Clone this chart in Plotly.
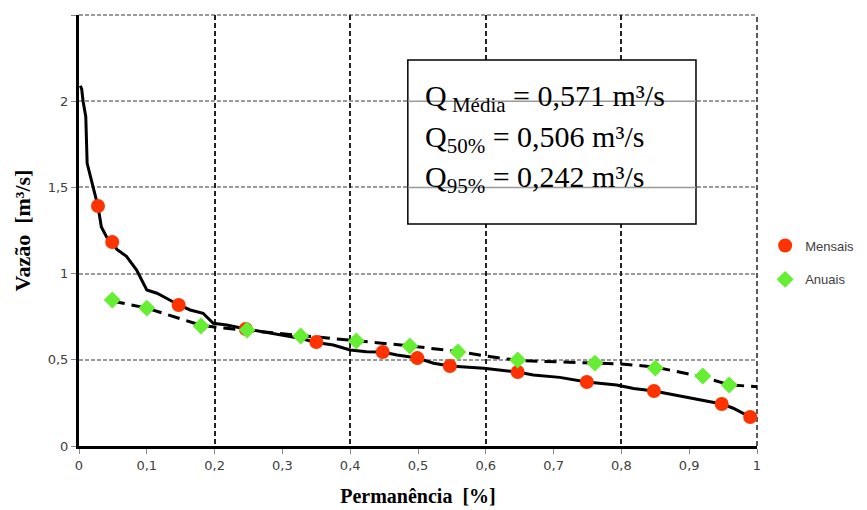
import plotly.graph_objects as go

# Flow duration curve (monthly, continuous)
curve_x = [0.002, 0.004, 0.006, 0.010, 0.012, 0.021, 0.028, 0.033, 0.041, 0.049, 0.056, 0.070,
           0.085, 0.100, 0.115, 0.129, 0.147, 0.164, 0.183, 0.198, 0.218, 0.246, 0.277, 0.301,
           0.326, 0.350, 0.375, 0.400, 0.424, 0.448, 0.469, 0.499, 0.523, 0.547, 0.597, 0.647,
           0.670, 0.709, 0.749, 0.793, 0.818, 0.848, 0.891, 0.926, 0.948, 0.965, 0.990, 0.998]
curve_y = [2.09, 2.07, 2.00, 1.91, 1.64, 1.50, 1.39, 1.27, 1.21, 1.18, 1.14, 1.10,
           1.02, 0.905, 0.886, 0.857, 0.818, 0.789, 0.770, 0.712, 0.702, 0.679, 0.657, 0.644,
           0.625, 0.600, 0.586, 0.557, 0.547, 0.545, 0.528, 0.510, 0.480, 0.464, 0.451, 0.429,
           0.412, 0.398, 0.371, 0.354, 0.334, 0.319, 0.286, 0.257, 0.244, 0.219, 0.168, 0.160]

# Monthly points (Mensais)
mens_x = [0.028, 0.049, 0.147, 0.246, 0.350, 0.448, 0.499, 0.547, 0.647, 0.749, 0.848, 0.948, 0.990]
mens_y = [1.392, 1.183, 0.818, 0.679, 0.603, 0.545, 0.510, 0.464, 0.429, 0.371, 0.319, 0.244, 0.168]

# Annual points (Anuais)
anu_x = [0.049, 0.100, 0.180, 0.248, 0.327, 0.409, 0.488, 0.559, 0.647, 0.761, 0.850, 0.920, 0.959]
anu_y = [0.847, 0.800, 0.696, 0.673, 0.638, 0.609, 0.580, 0.545, 0.499, 0.481, 0.452, 0.406, 0.354]

# Annual curve (dashed)
anc_x = [0.05, 0.10, 0.18, 0.21, 0.25, 0.33, 0.41, 0.49, 0.56, 0.60, 0.65, 0.76, 0.80, 0.85, 0.92, 0.96, 1.00]
anc_y = [0.84, 0.80, 0.70, 0.685, 0.67, 0.638, 0.61, 0.58, 0.547, 0.522, 0.495, 0.481, 0.476, 0.458, 0.40, 0.354, 0.344]

x_tick_vals = [0, 0.1, 0.2, 0.3, 0.4, 0.5, 0.6, 0.7, 0.8, 0.9, 1.0]
y_tick_vals = [0, 0.5, 1.0, 1.5, 2.0, 2.5]

box_lines = ["Q<sub> Média</sub> = 0,571 m³/s",
             "Q<sub>50%</sub> = 0,506 m³/s",
             "Q<sub>95%</sub> = 0,242 m³/s"]
box_line_y = [2.02, 1.78, 1.55]

NB = "\u00a0"

fig = go.Figure()

fig.add_trace(go.Scatter(x=anc_x, y=anc_y, mode="lines",
                         line=dict(color="black", width=3, dash="12px,7px"),
                         showlegend=False, hoverinfo="skip"))
fig.add_trace(go.Scatter(x=curve_x, y=curve_y, mode="lines",
                         line=dict(color="black", width=3),
                         showlegend=False, hoverinfo="skip"))
fig.add_trace(go.Scatter(x=mens_x, y=mens_y, mode="markers", name="Mensais",
                         legendgroup="a",
                         marker=dict(color="#FF3300", size=14, symbol="circle")))
fig.add_trace(go.Scatter(x=anu_x, y=anu_y, mode="markers", name="Anuais",
                         legendgroup="b",
                         marker=dict(color="#66EE33", size=13, symbol="diamond")))

# Border grid lines at the range edges
fig.add_shape(type="line", xref="paper", yref="paper", x0=0, x1=1, y0=1, y1=1,
              line=dict(color="#9a9a9a", width=2, dash="4px,2px"), layer="below")
fig.add_shape(type="line", xref="paper", yref="paper", x0=1, x1=1, y0=0, y1=1,
              line=dict(color="#222222", width=1.5, dash="5px,3px"), layer="below")

# Box
fig.add_shape(type="rect", xref="x", yref="y", x0=0.485, x1=0.91, y0=1.288, y1=2.239,
              line=dict(color="black", width=1.5), fillcolor="white", layer="above")
for yv in [1.5, 2.0]:
    fig.add_shape(type="line", xref="x", yref="y", x0=0.485, x1=0.91, y0=yv, y1=yv,
                  line=dict(color="#999999", width=1.5), layer="above")
for txt, yv in zip(box_lines, box_line_y):
    fig.add_annotation(x=0.508, y=yv, xref="x", yref="y", text=txt, showarrow=False,
                       xanchor="left", yanchor="middle",
                       font=dict(family="Liberation Serif", size=30, color="black"))

fig.update_layout(
    width=859, height=502,
    margin=dict(l=71, r=110, t=7, b=64, autoexpand=False),
    paper_bgcolor="white", plot_bgcolor="white",
    separators=", ",
    legend=dict(x=1.012, y=0.5, xanchor="left", yanchor="top",
                font=dict(family="Liberation Sans", size=13, color="#404040"),
                tracegroupgap=14, bgcolor="rgba(0,0,0,0)"),
    xaxis=dict(range=[0, 1], tickvals=x_tick_vals, showgrid=False, zeroline=False,
               showline=True, linecolor="black", linewidth=3, automargin=False,
               ticks="outside", ticklen=5, tickcolor="#888888",
               tickfont=dict(family="DejaVu Sans", size=13, color="#404040"),
               title=dict(text="<b>Permanência" + NB + NB + "[%]</b>", standoff=18,
                          font=dict(family="Liberation Serif", size=20, color="black"))),
    xaxis2=dict(range=[0, 1], overlaying="x", dtick=0.2, tick0=0, showgrid=True,
                gridcolor="#222222", gridwidth=1.5, griddash="5px,3px", automargin=False,
                showticklabels=False, zeroline=False, showline=False, side="bottom"),
    yaxis=dict(range=[0, 2.5], tickvals=y_tick_vals, showgrid=True, automargin=False,
               gridcolor="#9a9a9a", gridwidth=2, griddash="4px,2px", zeroline=False,
               showline=True, linecolor="black", linewidth=3,
               ticks="outside", ticklen=5, tickcolor="#888888",
               tickfont=dict(family="DejaVu Sans", size=13, color="#404040"),
               title=dict(text="<b>Vazão" + NB + NB + "[m³/s]</b>", standoff=12,
                          font=dict(family="Liberation Serif", size=22, color="black"))),
)

# invisible trace to activate xaxis2 (grid every 0,2)
fig.add_trace(go.Scatter(x=[0, 1], y=[0, 0], xaxis="x2", mode="lines",
                         line=dict(width=0), showlegend=False, hoverinfo="skip", opacity=0))

fig.write_html("out.html")
